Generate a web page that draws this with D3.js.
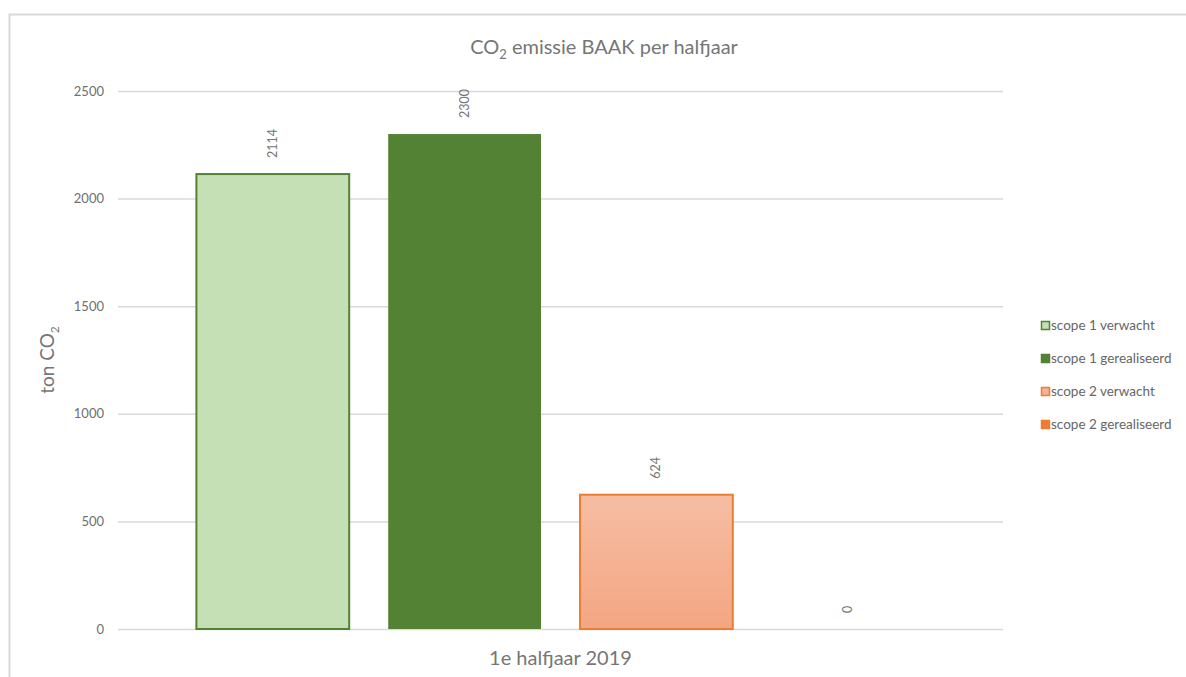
<!DOCTYPE html>
<html>
  <head>
    <meta charset="utf-8">
    <script src="https://d3js.org/d3.v7.min.js"></script>
    <title>CO2 emissie BAAK</title>
    <style>
      body { margin: 0; background: #fff; }
      svg text { font-family: Lato, "Open Sans", sans-serif; fill: #767676; }
      .tick text { font-size: 13px; fill: #6f6f6f; }
      .tick line { stroke: #d9d9d9; stroke-width: 1.5; }
      .domain { display: none; }
      .legend text { font-size: 13.5px; fill: #666; }
    </style>
  </head>
  <body>
    <svg width="1186" height="677"></svg>
    <script>
      // data
      const categories = ['1e halfjaar 2019'];
      const series = ['scope 1 verwacht', 'scope 1 gerealiseerd', 'scope 2 verwacht', 'scope 2 gerealiseerd'];
      const values = [2114, 2300, 624, 0];
      const yTicks = [0, 500, 1000, 1500, 2000, 2500];

      const fills = ['#c5e0b4', '#548235', 'url(#orangeGrad)', '#ed7d31'];
      const strokes = ['#548235', '#548235', '#ed7d31', '#ed7d31'];

      const svg = d3.select('svg');
      const margin = { left: 118, right: 183, top: 91, bottom: 48 };
      const width = +svg.attr('width');
      const height = +svg.attr('height');
      const innerWidth = width - margin.left - margin.right;
      const innerHeight = height - margin.top - margin.bottom;

      const defs = svg.append('defs');
      const grad = defs.append('linearGradient')
        .attr('id', 'orangeGrad')
        .attr('x1', 0).attr('y1', 0).attr('x2', 0).attr('y2', 1);
      grad.append('stop').attr('offset', '0%').attr('stop-color', '#f6bda3');
      grad.append('stop').attr('offset', '100%').attr('stop-color', '#f4a683');

      // outer frame (only top and left edges visible)
      svg.append('path')
        .attr('d', `M9.5,${height} V14.5 H${width}`)
        .attr('fill', 'none')
        .attr('stroke', '#d9d9d9')
        .attr('stroke-width', 2);

      const g = svg.append('g')
        .attr('transform', `translate(${margin.left}, ${margin.top})`);

      const yScale = d3.scaleLinear()
        .domain([0, 2500])
        .range([innerHeight, 0]);

      const xScale = d3.scaleBand()
        .domain(categories)
        .range([0, innerWidth])
        .paddingInner(0)
        .paddingOuter(0.106);

      const sScale = d3.scaleBand()
        .domain(series)
        .range([0, xScale.bandwidth()])
        .paddingInner(0.193)
        .paddingOuter(0);

      const yAxis = d3.axisLeft(yScale)
        .tickValues(yTicks)
        .tickFormat(d3.format('d'))
        .tickSize(-innerWidth)
        .tickPadding(14);

      g.append('g').call(yAxis);

      const rows = series.map((s, i) => ({ cat: categories[0], series: s, value: values[i], i }));

      const groups = g.selectAll('.cat').data(categories)
        .enter().append('g')
          .attr('class', 'cat')
          .attr('transform', d => `translate(${xScale(d)}, 0)`);

      groups.selectAll('rect').data(rows.filter(r => r.value > 0))
        .enter().append('rect')
          .attr('x', d => sScale(d.series) + 1)
          .attr('y', d => yScale(d.value))
          .attr('width', sScale.bandwidth() - 2)
          .attr('height', d => innerHeight - yScale(d.value))
          .attr('fill', d => fills[d.i])
          .attr('stroke', d => d.i === 1 ? 'none' : strokes[d.i])
          .attr('stroke-width', 2);

      groups.selectAll('.label').data(rows)
        .enter().append('text')
          .attr('class', 'label')
          .attr('transform', d => `translate(${sScale(d.series) + sScale.bandwidth() / 2 + 4}, ${yScale(d.value) - 16}) rotate(-90)`)
          .attr('text-anchor', 'start')
          .style('font-size', '12.5px')
          .text(d => d.value);

      // title
      const title = svg.append('text')
        .attr('x', 604)
        .attr('y', 54)
        .attr('text-anchor', 'middle')
        .style('font-size', '20px');
      title.append('tspan').text('CO');
      title.append('tspan').attr('dy', 5).style('font-size', '13px').text('2');
      title.append('tspan').attr('dy', -5).text(' emissie BAAK per halfjaar');

      // y axis label
      const yLab = svg.append('text')
        .attr('transform', `translate(54, ${margin.top + innerHeight / 2}) rotate(-90)`)
        .attr('text-anchor', 'middle')
        .style('font-size', '19px');
      yLab.append('tspan').text('ton CO');
      yLab.append('tspan').attr('dy', 5).style('font-size', '12px').text('2');

      // x axis label
      svg.append('text')
        .attr('x', margin.left + xScale(categories[0]) + xScale.bandwidth() / 2)
        .attr('y', 665)
        .attr('text-anchor', 'middle')
        .style('font-size', '20px')
        .text(categories[0]);

      // legend
      const legend = svg.append('g')
        .attr('class', 'legend')
        .attr('transform', 'translate(1041, 321)');
      const item = legend.selectAll('g').data(series)
        .enter().append('g')
          .attr('transform', (d, i) => `translate(0, ${i * 33})`);
      item.append('rect')
        .attr('x', 0.5).attr('y', 0.5)
        .attr('width', 8).attr('height', 8)
        .attr('fill', (d, i) => i === 2 ? '#f5b196' : fills[i])
        .attr('stroke', (d, i) => strokes[i])
        .attr('stroke-width', 1.5);
      item.append('text')
        .attr('x', 10)
        .attr('y', 9)
        .text(d => d);
    </script>
  </body>
</html>
